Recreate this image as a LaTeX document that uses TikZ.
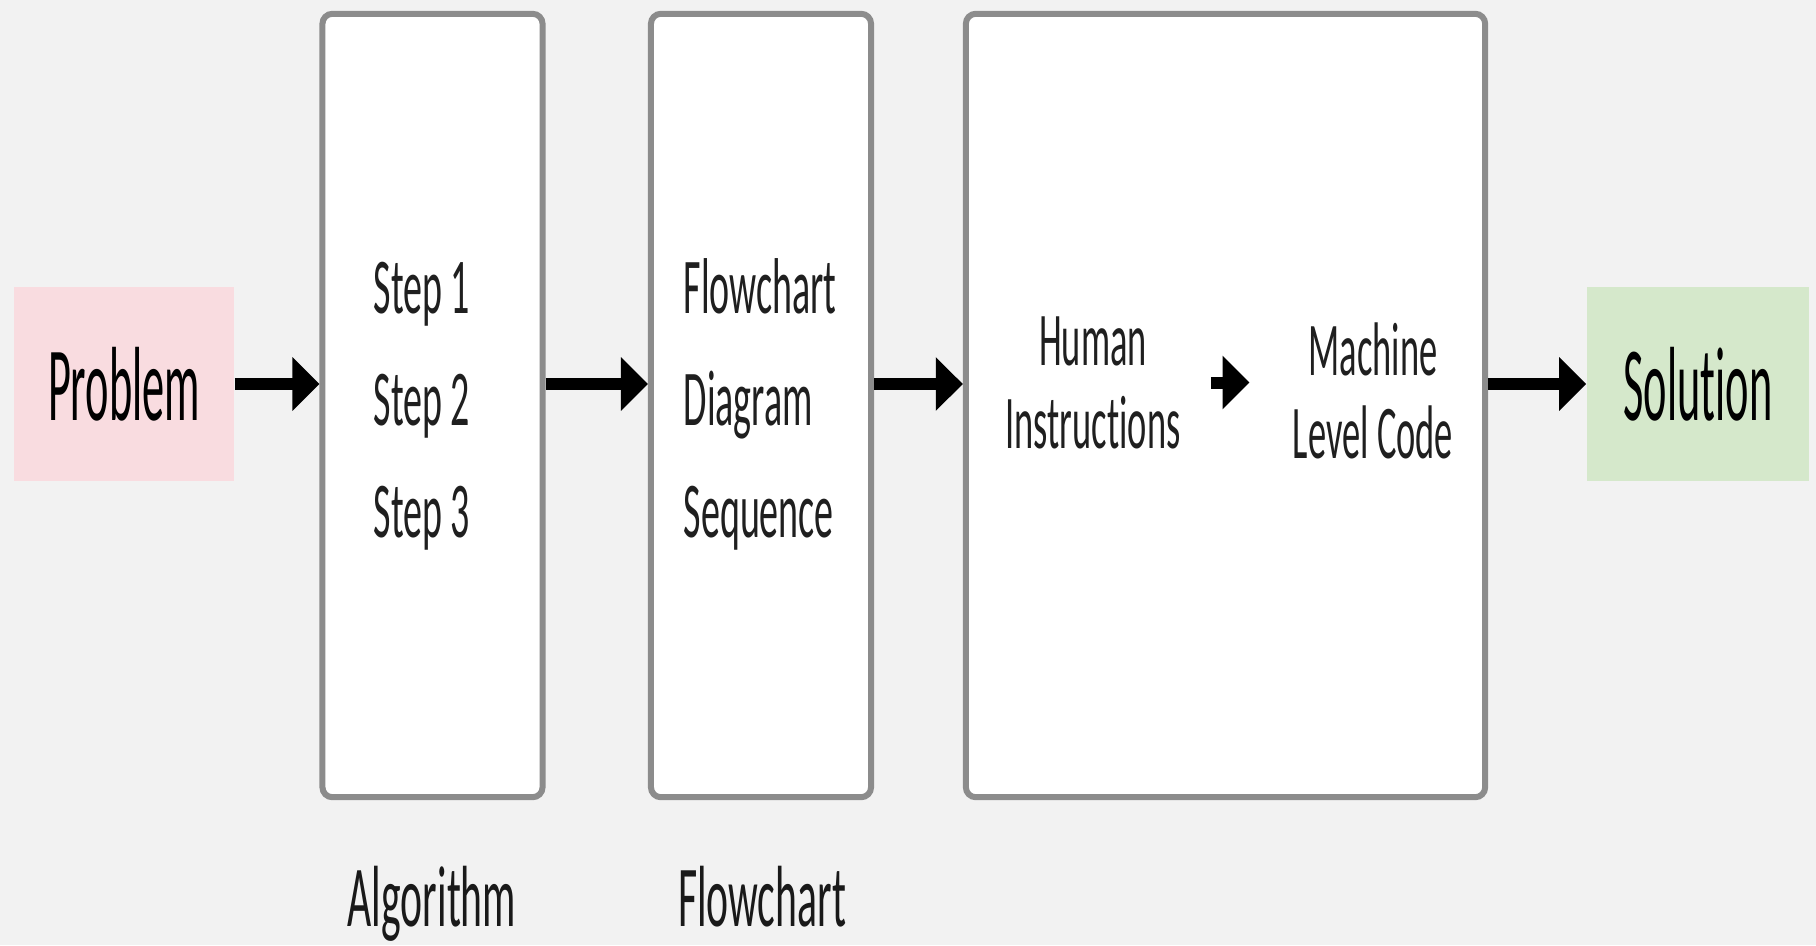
\documentclass[tikz,border=0pt]{standalone}
\usepackage{fontspec}
\setmainfont{Carlito}
\newfontfamily\slimfont[FakeStretch=0.48,Ligatures=NoCommon]{Carlito}
\newfontfamily\widefont[FakeStretch=0.42,Ligatures=NoCommon]{Carlito}
\usetikzlibrary{arrows.meta}
\definecolor{bggray}{HTML}{F2F2F2}
\definecolor{framegray}{HTML}{8C8C8C}
\definecolor{probpink}{HTML}{F9DCE0}
\definecolor{solgreen}{HTML}{D5E8CB}
\tikzset{
  stage/.style={draw=framegray, line width=0.06cm, fill=white, rounded corners=0.1cm,
    minimum width=2.2cm, minimum height=7.83cm},
  endbox/.style={minimum width=2.2cm, minimum height=1.93cm, text=black,
    font=\widefont\fontsize{30}{36}\selectfont},
  steptext/.style={anchor=base west, inner sep=0pt, text=black!88,
    font=\slimfont\fontsize{22.5}{27}\selectfont},
  codetext/.style={align=center, text=black!88,
    font=\slimfont\fontsize{21.6}{23.6}\selectfont},
  labeltext/.style={anchor=base, inner sep=0pt, text=black!90,
    font=\slimfont\fontsize{24.7}{30}\selectfont},
  flowarrow/.style={line width=0.12cm, -{Triangle[length=0.27cm,width=0.52cm]}}
}
\begin{document}
\begin{tikzpicture}[x=0.01cm,y=-0.01cm]
\useasboundingbox (0,0) rectangle (1816,945);
\fill[bggray] (0,0) rectangle (1816,945);
\node[endbox, fill=probpink] (problem) at (124,384) {Problem};
\node[stage] (algo) at (432.5,405.5) {};
\node[stage] (flow) at (761,405.5) {};
\node[stage, minimum width=5.19cm] (code) at (1225.5,405.5) {};
\node[endbox, fill=solgreen, minimum width=2.22cm] (solution) at (1698,384) {Solution};
% inside the boxes
\foreach \t [count=\k] in {Step 1,Step 2,Step 3} { \node[steptext] (step\k) at (373,{313+112*(\k-1)}) {\t}; }
\foreach \t [count=\k] in {Flowchart,Diagram,Sequence} { \node[steptext] (chart\k) at (683,{313+112*(\k-1)}) {\t}; }
\node[codetext] (human) at (1093,382.5) {Human\\Instructions};
\node[codetext] (machine) at (1373,391) {Machine\\Level Code};
% names under the boxes
\node[labeltext] (algoname) at (432,926) {Algorithm};
\node[labeltext] (flowname) at (762,926) {Flowchart};
% arrows
\draw[flowarrow] (problem.east) -- (algo.west |- problem.east);
\draw[flowarrow] (algo.east |- problem.east) -- (flow.west |- problem.east);
\draw[flowarrow] (flow.east |- problem.east) -- (code.west |- problem.east);
\draw[flowarrow] (code.east |- problem.east) -- (solution.west);
\draw[flowarrow, shorten <=0.18cm, shorten >=0.31cm] (human.east) -- (machine.west |- human.east);
\end{tikzpicture}
\end{document}
